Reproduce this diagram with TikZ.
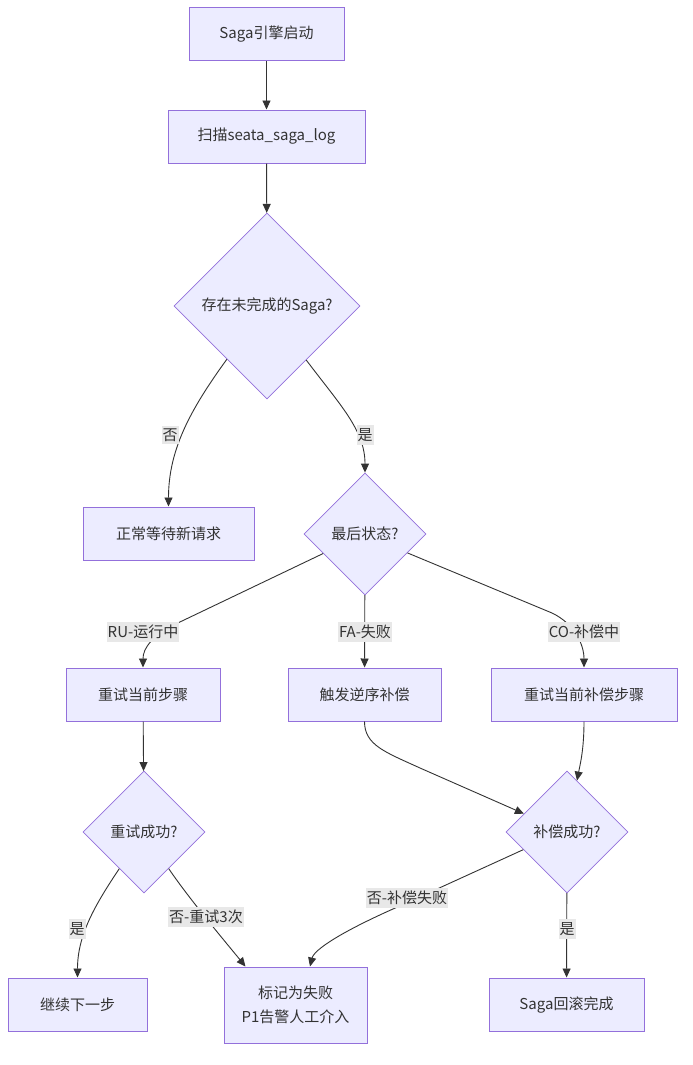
\documentclass[tikz,border=0pt]{standalone}
\usepackage{fontspec}
\setmainfont{Noto Sans CJK SC}
\usetikzlibrary{shapes.geometric,arrows.meta}
\definecolor{nfill}{HTML}{ECECFF}
\definecolor{nstroke}{HTML}{9370DB}
\definecolor{ecol}{HTML}{333333}
\definecolor{lbg}{HTML}{E8E8E8}
\definecolor{tcol}{HTML}{333333}
\begin{document}
\begin{tikzpicture}[x=1pt,y=-1pt,
  font=\fontsize{15}{24}\selectfont,
  box/.style={draw=nstroke, fill=nfill, line width=1pt, text=tcol, minimum height=53pt, inner sep=0pt},
  dia/.style={diamond, aspect=1, draw=nstroke, fill=nfill, line width=0.8pt, text=tcol, inner sep=0pt, minimum width=122pt, minimum height=122pt},
  edge/.style={draw=ecol, line width=0.9pt, -{Triangle[length=9pt,width=8pt]}},
  lbl/.style={fill=lbg, text=tcol, inner xsep=1pt, inner ysep=3pt}]
\path[use as bounding box] (0,0) rectangle (693,1065);

\node[box, minimum width=155pt] (start) at (266.5,34.5) {Saga引擎启动};
\node[box, minimum width=197pt] (scan) at (266.5,136.5) {扫描seata\_saga\_log};
\node[dia, minimum width=186pt, minimum height=186pt] (d1) at (267,306) {存在未完成的Saga?};
\node[box, minimum width=171pt] (normal) at (168.5,533.5) {正常等待新请求};
\node[dia] (d2) at (365,534) {最后状态?};
\node[box, minimum width=154pt] (ru) at (143,694.5) {重试当前步骤};
\node[box, minimum width=153pt] (fa) at (364.5,694.5) {触发逆序补偿};
\node[box, minimum width=186pt] (co) at (584,694.5) {重试当前补偿步骤};
\node[dia] (d3) at (144,832) {重试成功?};
\node[dia] (d4) at (567,832) {补偿成功?};
\node[box, minimum width=139pt] (cont) at (77.5,1004.5) {继续下一步};
\node[box, minimum width=143pt, minimum height=76pt, align=center] (mark) at (295.5,1005) {标记为失败\\P1告警人工介入};
\node[box, minimum width=155pt] (done) at (566.5,1004.5) {Saga回滚完成};

\draw[edge] (start) -- (scan);
\draw[edge] (scan) -- (d1);
\draw[edge] (d1.233) .. controls (190,410) and (168.5,450) .. (normal.north);
\draw[edge] (d1.306.5) .. controls (340,405) and (365,430) .. (d2.north);
\draw[edge] (d2.205) -- (182,621) .. controls (152,635) and (143,648) .. (ru.north);
\draw[edge] (d2) -- (fa);
\draw[edge] (d2.-24) -- (552,613) .. controls (575,624) and (584,645) .. (co.north);
\draw[edge] (ru) -- (d3);
\draw[edge] (fa.south) .. controls (364.5,745) and (385,752) .. (420,768) -- (d4.157);
\draw[edge] (co.south) .. controls (584,750) and (580,765) .. (d4.79);
\draw[edge] (d3.236) .. controls (95,905) and (77.5,935) .. (cont.north);
\draw[edge] (d3.304) .. controls (190,900) and (228,945) .. ([xshift=-50pt]mark.north);
\draw[edge] (d4.202.7) -- (402,905) .. controls (340,932) and (314,950) .. ([xshift=14.5pt]mark.north);
\draw[edge] (d4) -- (done);

\node[lbl] (l1) at (170,435) {否};
\node[lbl] (l2) at (365,435) {是};
\node[lbl] (l3) at (143,632) {RU-运行中};
\node[lbl] (l4) at (365,632) {FA-失败};
\node[lbl] (l5) at (584,632) {CO-补偿中};
\node[lbl] (l6) at (77,929) {是};
\node[lbl] (l7) at (206,917) {否-重试3次};
\node[lbl] (l8) at (407,898) {否-补偿失败};
\node[lbl] (l9) at (567,929) {是};
\end{tikzpicture}
\end{document}
